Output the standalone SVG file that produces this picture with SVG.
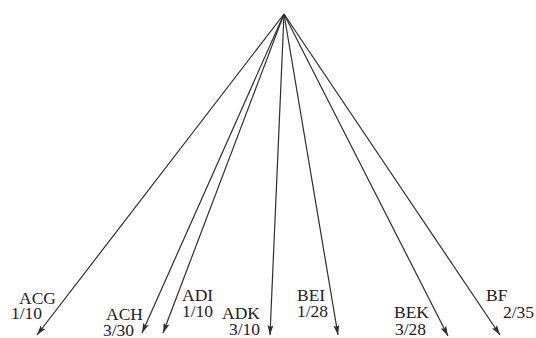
<svg xmlns="http://www.w3.org/2000/svg" width="536" height="338" viewBox="0 0 536 338">
<style>
.e{stroke:#2e2e2e;stroke-width:1.2;fill:none;marker-end:url(#ah)}
.t{font-family:"Liberation Serif","Times New Roman",serif;font-size:17.5px;fill:#222}
</style>
<defs>
<marker id="ah" markerWidth="10" markerHeight="6" refX="10" refY="3" orient="auto" markerUnits="userSpaceOnUse">
<path d="M0,0 L10,3 L0,6 L2,3 Z" fill="#2e2e2e"/>
</marker>
</defs>
<rect width="536" height="338" fill="#fff"/>
<g id="connectors">
<line class="e" x1="284" y1="14" x2="37" y2="335"/>
<line class="e" x1="284" y1="14" x2="142" y2="333"/>
<line class="e" x1="284" y1="14" x2="163" y2="333"/>
<line class="e" x1="284" y1="14" x2="270" y2="335"/>
<line class="e" x1="284" y1="14" x2="338" y2="335"/>
<line class="e" x1="284" y1="14" x2="448" y2="336"/>
<line class="e" x1="284" y1="14" x2="500" y2="335"/>
</g>
<g id="ACG"><text class="t" x="19" y="304">ACG</text><text class="t" x="11" y="319">1/10</text></g>
<g id="ACH"><text class="t" x="106" y="320">ACH</text><text class="t" x="103" y="336">3/30</text></g>
<g id="ADI"><text class="t" x="182" y="301">ADI</text><text class="t" x="182" y="317">1/10</text></g>
<g id="ADK"><text class="t" x="222" y="319">ADK</text><text class="t" x="229" y="335">3/10</text></g>
<g id="BEI"><text class="t" x="297" y="301">BEI</text><text class="t" x="297" y="317">1/28</text></g>
<g id="BEK"><text class="t" x="394" y="318">BEK</text><text class="t" x="395" y="335">3/28</text></g>
<g id="BF"><text class="t" x="486" y="301">BF</text><text class="t" x="503" y="318">2/35</text></g>
</svg>
